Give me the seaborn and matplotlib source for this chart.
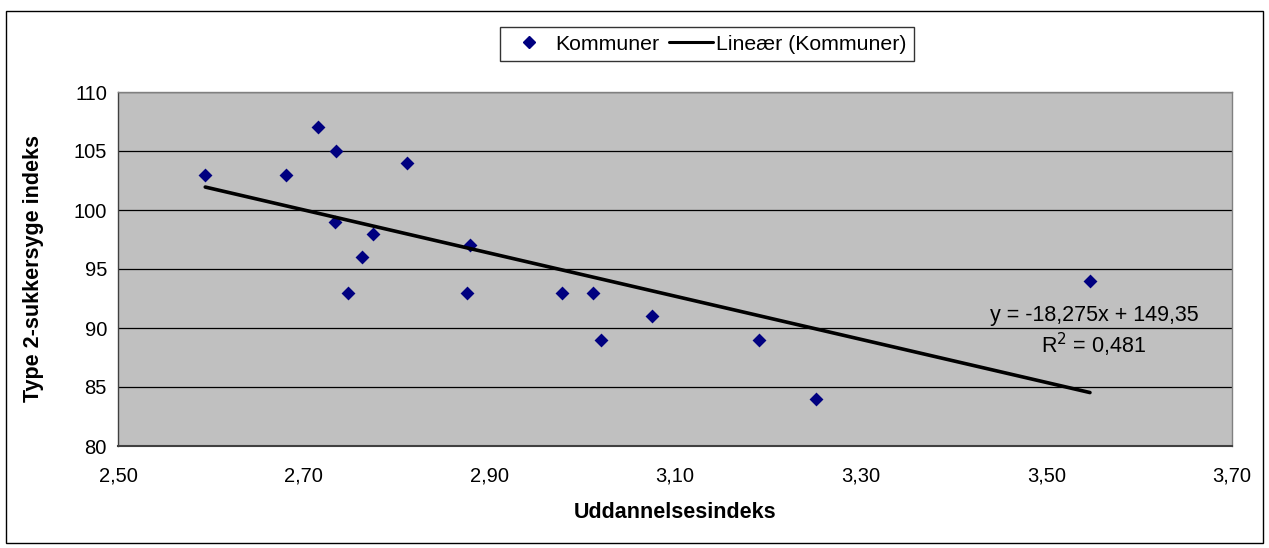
import numpy as np
import pandas as pd
import matplotlib
matplotlib.use("Agg")
import matplotlib.pyplot as plt
import seaborn as sns
from matplotlib.ticker import FuncFormatter, FixedLocator
from matplotlib.patches import Rectangle
from matplotlib.lines import Line2D

# Data
uddannelse = [2.594, 2.681, 2.715, 2.735, 2.734, 2.811, 2.775, 2.763, 2.748,
              2.879, 2.876, 2.978, 3.012, 3.020, 3.075, 3.190, 3.252, 3.547]
sukkersyge = [103, 103, 107, 105, 99, 104, 98, 96, 93,
              97, 93, 93, 93, 89, 91, 89, 84, 94]
x_ticks = [2.50, 2.70, 2.90, 3.10, 3.30, 3.50, 3.70]
y_ticks = [80, 85, 90, 95, 100, 105, 110]
slope = -18.275
intercept = 149.35
r2 = 0.481
x_label = "Uddannelsesindeks"
y_label = "Type 2-sukkersyge indeks"
series_name = "Kommuner"
trend_name = "Lineær (Kommuner)"

df = pd.DataFrame({"x": uddannelse, "y": sukkersyge})
xs = np.array([min(uddannelse), max(uddannelse)])
trend = pd.DataFrame({"x": xs, "y": slope * xs + intercept})

sns.set_style("white")
plt.rcParams['font.family'] = ['Liberation Sans', 'DejaVu Sans']
plt.rcParams['text.color'] = 'black'
plt.rcParams['axes.labelcolor'] = 'black'
plt.rcParams['xtick.color'] = 'black'
plt.rcParams['ytick.color'] = 'black'

fig = plt.figure(figsize=(12.69, 5.48), dpi=100)
W, H = 1269, 548
ax = fig.add_axes([118 / W, 1 - 446 / H, (1232 - 118) / W, (446 - 92) / H])
ax.set_facecolor("#C0C0C0")

# outer frame
fig.patches.append(Rectangle((6 / W, 1 - 543 / H), (1263 - 6) / W, (543 - 11) / H,
                             transform=fig.transFigure, fill=False,
                             edgecolor="black", linewidth=1.0))

sns.scatterplot(data=df, x="x", y="y", ax=ax, marker="D", s=50,
                color="#000080", edgecolor="#000080", linewidth=0, zorder=3)
sns.lineplot(data=trend, x="x", y="y", ax=ax, color="black", linewidth=2.6, zorder=4)

ax.set_xlim(2.5, 3.7)
ax.set_ylim(80, 110)
ax.xaxis.set_major_locator(FixedLocator(x_ticks))
ax.yaxis.set_major_locator(FixedLocator(y_ticks))
ax.xaxis.set_major_formatter(FuncFormatter(lambda v, p: f"{v:.2f}".replace(".", ",")))
ax.yaxis.set_major_formatter(FuncFormatter(lambda v, p: f"{v:.0f}"))
ax.yaxis.grid(True, color="black", linewidth=0.9)
ax.set_axisbelow(True)
for s in ax.spines.values():
    s.set_color("#808080")
    s.set_linewidth(1.0)
ax.spines["bottom"].set_color("#404040")
ax.spines["bottom"].set_linewidth(1.5)
ax.spines["left"].set_color("#404040")
ax.tick_params(axis="both", which="major", direction="out", length=5, width=0.9,
               color="black", labelsize=14.5, labelcolor="black")
ax.tick_params(axis="x", pad=10)
ax.tick_params(axis="y", pad=3)

ax.set_xlabel(x_label, fontsize=15.5, fontweight="bold", labelpad=12)
ax.set_ylabel(y_label, fontsize=15.5, fontweight="bold", labelpad=21)

ax.text(1094 / W, 1 - 332 / H,
        f"y = {slope:.3f}x + {intercept:.2f}".replace(".", ",") + "\n" +
        f"R$^2$ = {r2:.3f}".replace(".", ","),
        transform=fig.transFigure, ha="center", va="center", fontsize=15.5,
        linespacing=1.25, multialignment="center")

handles = [Line2D([], [], marker="D", color="#000080", linestyle="none", markersize=6),
           Line2D([], [], color="black", linewidth=2.2)]
leg = fig.legend(handles, [series_name, trend_name], loc="center",
                 bbox_to_anchor=(707 / W, 1 - 44 / H), ncol=2, frameon=True,
                 fancybox=False, edgecolor="black", fontsize=15.3,
                 handlelength=2.1, handletextpad=0.15, columnspacing=0.45,
                 borderpad=0.35, borderaxespad=0)
leg.get_frame().set_linewidth(1.0)
for t in leg.get_texts():
    t.set_color("black")

fig.savefig("out.png", dpi=100, facecolor="white")
